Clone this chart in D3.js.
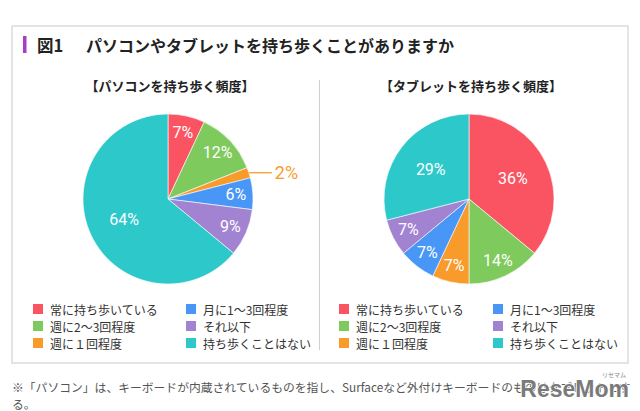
<!DOCTYPE html>
<html><head><meta charset="utf-8">
<script src="https://cdn.jsdelivr.net/npm/d3@7"></script>
<style>html,body{margin:0;padding:0;background:#fff;}svg{display:block;}</style>
</head><body>
<script>
const categories = ["常に持ち歩いている","週に2～3回程度","週に１回程度","月に1～3回程度","それ以下","持ち歩くことはない"];
const pcValues = [7,12,2,6,9,64];
const tabletValues = [36,14,7,7,7,29];
const colors = ["#fa5462","#7eca5c","#f99b2b","#4896f5","#a283d2","#2dc8ca"];
const chartTitles = ["【パソコンを持ち歩く頻度】","【タブレットを持ち歩く頻度】"];
const mainTitleNum = "図1";
const mainTitle = "パソコンやタブレットを持ち歩くことがありますか";
const footLines = ["※「パソコン」は、キーボードが内蔵されているものを指し、Surfaceなど外付けキーボードのものはタブレットとす","る。"];

const W=640,H=411;
const jp = "'Noto Sans CJK JP','Noto Sans',sans-serif";
const svg = d3.select("body").append("svg").attr("width",W).attr("height",H);
svg.append("rect").attr("width",W).attr("height",H).attr("fill","#fff");
// frame
svg.append("rect").attr("x",12).attr("y",26).attr("width",616).attr("height",337)
  .attr("fill","#fff").attr("stroke","#dcdcdc").attr("stroke-width",1.5);
// title
svg.append("rect").attr("x",23).attr("y",36).attr("width",3.5).attr("height",17).attr("fill","#a93bc4");
svg.append("text").attr("x",37).attr("y",45).attr("dominant-baseline","central")
  .attr("font-family",jp).attr("font-weight","bold").attr("font-size",16.5).attr("fill","#222").text(mainTitleNum);
svg.append("text").attr("x",86).attr("y",45).attr("dominant-baseline","central")
  .attr("font-family",jp).attr("font-weight","bold").attr("font-size",16).attr("fill","#222").text(mainTitle);
// divider
svg.append("line").attr("x1",319.5).attr("x2",319.5).attr("y1",80).attr("y2",350).attr("stroke","#cfcfcf").attr("stroke-width",1);

const R=85;
const centers=[[168,199],[469,199]];
const legendX=[[33,186],[339,493]];
const rowsY=[309,326,343];
const pie=d3.pie().sort(null).value(d=>d);
const arc=d3.arc().innerRadius(0).outerRadius(R);

[pcValues,tabletValues].forEach((vals,ci)=>{
  const [cx,cy]=centers[ci];
  svg.append("text").attr("x",cx+2).attr("y",85).attr("text-anchor","middle").attr("dominant-baseline","central")
    .attr("font-family",jp).attr("font-weight","bold").attr("font-size",13).attr("fill","#222").text(chartTitles[ci]);
  const g=svg.append("g").attr("transform",`translate(${cx},${cy})`);
  const arcs=pie(vals);
  g.selectAll("path").data(arcs).join("path").attr("d",arc)
    .attr("fill",(d,i)=>colors[i]).attr("stroke","#fff").attr("stroke-width",0.6);
  arcs.forEach((d,i)=>{
    const a=(d.startAngle+d.endAngle)/2;
    if(d.data<3){
      const x0=Math.sin(a)*R, y0=-Math.cos(a)*R;
      g.append("line").attr("x1",x0).attr("y1",y0).attr("x2",x0+23).attr("y2",y0)
        .attr("stroke",colors[i]).attr("stroke-width",1.3);
      g.append("text").attr("x",x0+26).attr("y",y0).attr("dominant-baseline","central")
        .attr("font-family","Roboto,'Liberation Sans',sans-serif").attr("font-size",18).attr("fill",colors[i]).text(d.data+"%");
    } else {
      const lr = d.data>=25 ? R*0.57 : R*0.8;
      const la = d.data>=25 ? a : a;
      g.append("text").attr("x",Math.sin(la)*lr).attr("y",-Math.cos(la)*lr)
        .attr("text-anchor","middle").attr("dominant-baseline","central")
        .attr("font-family","Roboto,'Liberation Sans',sans-serif").attr("font-size",16).attr("fill","#fff").text(d.data+"%");
    }
  });
  // legend
  categories.forEach((c,i)=>{
    const col=Math.floor(i/3), row=i%3;
    const lx=legendX[ci][col], ly=rowsY[row];
    svg.append("rect").attr("x",lx).attr("y",ly-5).attr("width",10).attr("height",10).attr("fill",colors[i]);
    svg.append("text").attr("x",lx+17).attr("y",ly).attr("dominant-baseline","central")
      .attr("font-family",jp).attr("font-size",12).attr("fill","#333").text(c);
  });
});
// footnote
footLines.forEach((t,i)=>{
  svg.append("text").attr("x",12).attr("y",386+i*17).attr("dominant-baseline","central")
    .attr("font-family",jp).attr("font-size",11.8).attr("fill","#555").text(t);
});
// watermark
svg.append("text").attr("x",629).attr("y",397).attr("text-anchor","end")
  .attr("font-family","'Liberation Sans',Arial,sans-serif").attr("font-weight","bold").attr("font-size",23)
  .attr("fill","#7a7a7a").attr("stroke","#fff").attr("stroke-width",1.5).attr("paint-order","stroke").text("ReseMom");
svg.append("text").attr("x",626).attr("y",377).attr("text-anchor","end")
  .attr("font-family",jp).attr("font-size",6).attr("fill","#888").text("リセマム");
</script>
</body></html>
